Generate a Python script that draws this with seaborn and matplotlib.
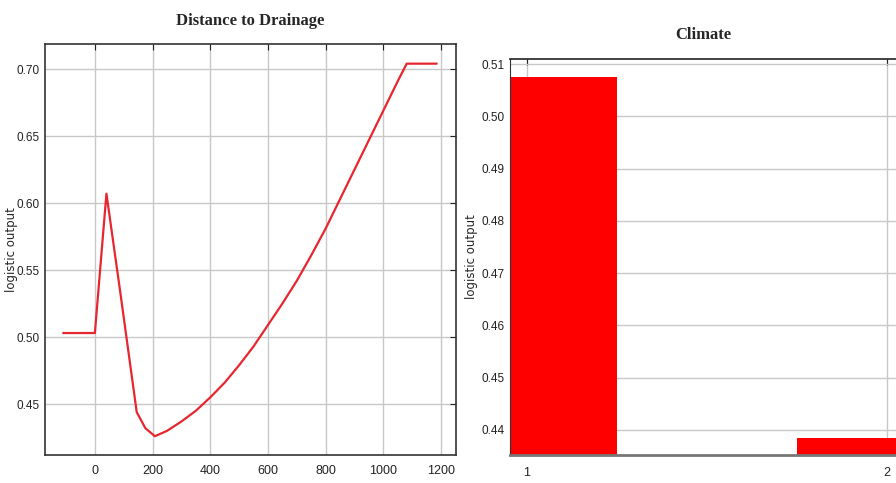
import matplotlib
matplotlib.use('Agg')
import matplotlib.pyplot as plt
import seaborn as sns
import pandas as pd
import numpy as np

# response curve: distance to drainage
dist = [-110, 0, 40, 87, 145, 175, 208, 250, 300, 350, 400, 450, 500, 550, 600,
        650, 700, 750, 800, 850, 900, 950, 1000, 1050, 1081, 1185]
dist_out = [0.503, 0.503, 0.607, 0.535, 0.444, 0.432, 0.426, 0.430, 0.437, 0.445,
            0.455, 0.466, 0.479, 0.493, 0.509, 0.525, 0.542, 0.561, 0.581, 0.603,
            0.625, 0.647, 0.669, 0.691, 0.704, 0.704]

# climate categories
climate_cls = ['1', '2']
climate_out = [0.5075, 0.4385]

sns.set_style('white')
plt.rcParams['font.family'] = ['Liberation Sans', 'DejaVu Sans']

fig = plt.figure(figsize=(8.96, 4.83), dpi=100)
ax1 = fig.add_axes([0.0502, 0.058, 0.4588, 0.851])
ax2 = fig.add_axes([0.569, 0.058, 0.431, 0.820])

grid_kw = dict(color='#c8c8c8', linewidth=1.0)

# left: line
df1 = pd.DataFrame({'dist': dist, 'out': dist_out})
sns.lineplot(data=df1, x='dist', y='out', ax=ax1, color='#e8262f', linewidth=1.6)
ax1.set_xlim(-173, 1252)
ax1.set_ylim(0.412, 0.7187)
ax1.set_xticks(np.arange(0, 1201, 200))
ax1.set_yticks([0.45, 0.50, 0.55, 0.60, 0.65, 0.70])
ax1.set_yticklabels(['0.45', '0.50', '0.55', '0.60', '0.65', '0.70'])
ax1.grid(True, **grid_kw)
ax1.set_axisbelow(True)
ax1.tick_params(direction='in', top=True, right=True, length=4, labelsize=8.5,
                colors='#222222', pad=4)
ax1.tick_params(axis='x', pad=7, labelsize=9)
for s in ax1.spines.values():
    s.set_color('#333333')
    s.set_linewidth(1.2)
ax1.set_xlabel('')
ax1.set_ylabel('logistic output', fontsize=8.5, family='DejaVu Sans')
ax1.yaxis.set_label_coords(-0.066, 0.5)
ax1.set_title('Distance to Drainage', fontsize=12, fontweight='bold',
              family='Liberation Serif', pad=14)

# right: bars
df2 = pd.DataFrame({'cls': climate_cls, 'out': climate_out})
sns.barplot(data=df2, x='cls', y='out', ax=ax2, color='#ff0000', width=0.5,
            saturation=1, edgecolor='none')
ax2.set_xlim(-0.047, 1.025)
ax2.set_ylim(0.4352, 0.511)
ax2.set_yticks([0.44, 0.45, 0.46, 0.47, 0.48, 0.49, 0.50, 0.51])
ax2.set_yticklabels(['0.44', '0.45', '0.46', '0.47', '0.48', '0.49', '0.50', '0.51'])
ax2.grid(True, **grid_kw)
ax2.set_axisbelow(True)
ax2.tick_params(direction='in', top=True, length=4, labelsize=8.5,
                colors='#222222', pad=4)
ax2.tick_params(axis='x', pad=9, labelsize=9)
ax2.spines['right'].set_visible(False)
ax2.spines['left'].set_color('#333333')
ax2.spines['top'].set_color('#222222')
ax2.spines['top'].set_linewidth(1.2)
ax2.spines['bottom'].set_color('#777777')
ax2.spines['bottom'].set_linewidth(2)
ax2.set_xlabel('')
ax2.set_ylabel('logistic output', fontsize=8.5, family='DejaVu Sans')
ax2.yaxis.set_label_coords(-0.083, 0.5)
ax2.set_title('Climate', fontsize=12, fontweight='bold',
              family='Liberation Serif', pad=14)

fig.savefig('out.png', dpi=100)
